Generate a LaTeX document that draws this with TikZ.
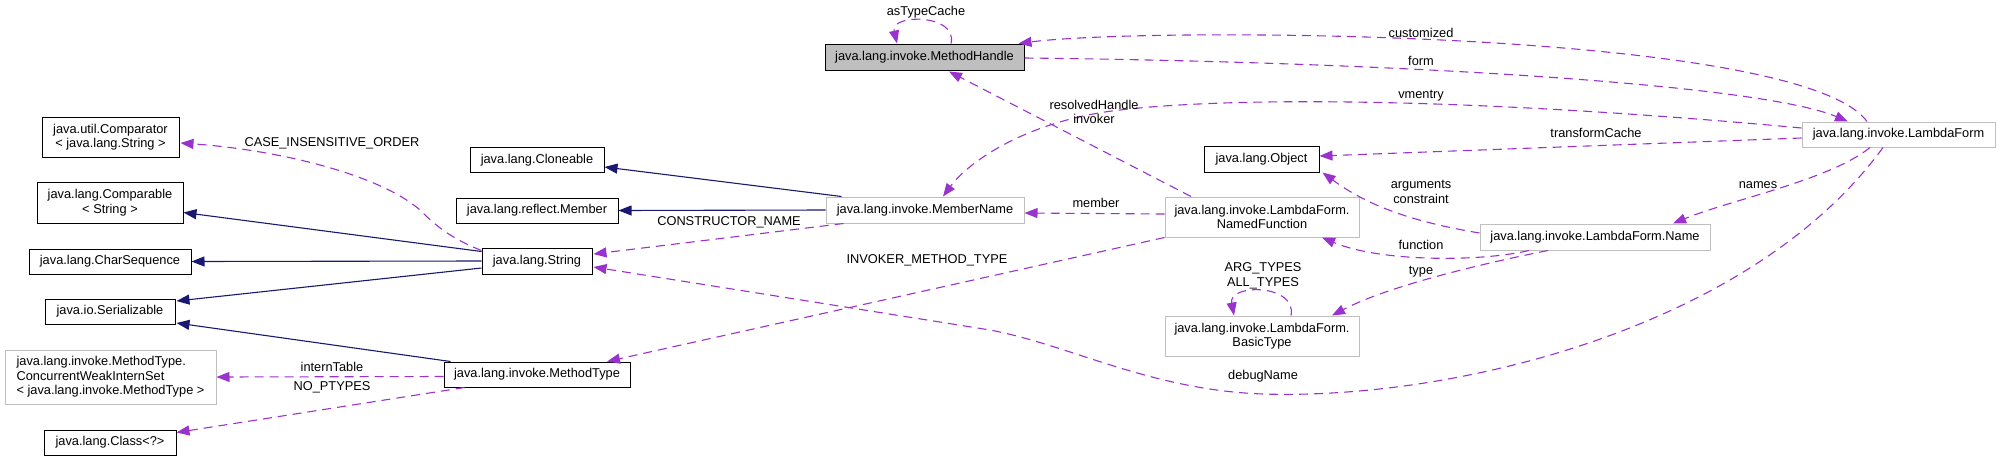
\documentclass[tikz,border=0pt]{standalone}
\usepackage{fontspec}
\setmainfont{Liberation Sans}
\usetikzlibrary{arrows.meta,calc}
\definecolor{inh}{HTML}{191970}
\definecolor{use}{HTML}{9A32CD}
\definecolor{gb}{HTML}{BFBFBF}
\newcommand{\fsz}{\fontsize{6.4}{7.3}\selectfont}
\begin{document}
\begin{tikzpicture}[x=0.5pt,y=-0.5pt,
  nb/.style={draw=black, line width=0.5pt, fill=white, inner sep=0pt, align=center, font=\fsz},
  gnb/.style={nb, draw=gb},
  ih/.style={draw=inh, line width=0.55pt, -{Triangle[length=6.5pt,width=5pt]}},
  us/.style={draw=use, line width=0.55pt, dash pattern=on 4.5pt off 3pt, -{Triangle[length=6.5pt,width=5pt]}},
  lbl/.style={font=\fsz, inner sep=0pt, align=center}]
\useasboundingbox (0,0) rectangle (2000,461);
% nodes
\node[nb, minimum width=68.5pt, minimum height=20pt] (cmp) at (110.5,137) {java.util.Comparator\\< java.lang.String >};
\node[nb, minimum width=73pt, minimum height=20.5pt] (cpb) at (110,202.5) {java.lang.Comparable\\< String >};
\node[nb, minimum width=81pt, minimum height=12.5pt] (chs) at (110,261.5) {java.lang.CharSequence};
\node[nb, minimum width=65pt, minimum height=12.5pt] (ser) at (110,311.5) {java.io.Serializable};
\node[gnb, align=left, minimum width=105.5pt, minimum height=27pt] (cwis) at (110.5,377) {java.lang.invoke.MethodType.\\ConcurrentWeakInternSet\\< java.lang.invoke.MethodType >};
\node[nb, minimum width=66pt, minimum height=12.5pt] (cls) at (110,442.5) {java.lang.Class<?>};
\node[nb, minimum width=67pt, minimum height=12.5pt] (cln) at (537,160) {java.lang.Cloneable};
\node[nb, minimum width=81pt, minimum height=12.5pt] (mem) at (537,210.5) {java.lang.reflect.Member};
\node[nb, minimum width=55pt, minimum height=13pt] (str) at (537,261) {java.lang.String};
\node[nb, minimum width=93pt, minimum height=12.5pt] (mt) at (537,374.5) {java.lang.invoke.MethodType};
\node[nb, fill=gb, minimum width=99.5pt, minimum height=13pt] (mh) at (924.5,57) {java.lang.invoke.MethodHandle};
\node[gnb, minimum width=99pt, minimum height=13pt] (mn) at (925,210) {java.lang.invoke.MemberName};
\node[nb, minimum width=57.5pt, minimum height=13pt] (obj) at (1261.5,159) {java.lang.Object};
\node[gnb, minimum width=97pt, minimum height=20pt] (nf) at (1262,217) {java.lang.invoke.LambdaForm.\\NamedFunction};
\node[gnb, minimum width=97pt, minimum height=20pt] (bt) at (1262,336) {java.lang.invoke.LambdaForm.\\BasicType};
\node[gnb, minimum width=115pt, minimum height=13pt] (nm) at (1595,237) {java.lang.invoke.LambdaForm.Name};
\node[gnb, minimum width=96.5pt, minimum height=12.5pt] (lf) at (1898.5,134.5) {java.lang.invoke.LambdaForm};
% inheritance
\draw[ih] ($(mn.north west)+(16,0)$) -- ($(cln.east)+(0,7)$);
\draw[ih] (mn.west) -- (mem.east);
\draw[ih] ($(str.north west)+(0,4)$) -- ($(cpb.east)+(0,10)$);
\draw[ih] (str.west) -- (chs.east);
\draw[ih] ($(str.west)+(0,7)$) -- ($(ser.east)+(1,-10.5)$);
\draw[ih] ($(mt.north west)+(7,0)$) -- ($(ser.east)+(1,11.5)$);
% usage
\draw[us] ($(mh.north)+(26.5,0)$) .. controls +(7,-30) and +(-7,-30) .. ($(mh.north)+(-27.5,0)$);
\node[lbl] (l1) at (926,12) {asTypeCache};
\draw[us] ($(lf.north)+(-31.5,0)$) .. controls +(-67,-92) and +(132,-17) .. ($(mh.north east)+(-6,0)$);
\node[lbl] (l2) at (1421,33) {customized};
\draw[us] ($(mh.east)+(0,1)$) .. controls +(376,4) and +(-88,-37) .. ($(lf.north)+(-50.5,0)$);
\node[lbl] (l3) at (1421,61) {form};
\draw[us] ($(lf.west)+(0,-6.5)$) .. controls (1500,100) and (1250,95) .. (1120,110) .. controls (1030,120) and (970,160) .. ($(mn.north)+(18,0)$);
\node[lbl] (l4) at (1421,96) {vmentry};
\draw[us] ($(lf.west)+(0,3.5)$) -- ($(obj.east)+(0,-3)$);
\node[lbl] (l5) at (1596,133) {transformCache};
\draw[us] ($(lf.south)+(-28.5,0)$) .. controls (1830,180) and (1730,200) .. ($(nm.north)+(78,0)$);
\node[lbl] (l6) at (1758,185) {names};
\draw[us] ($(lf.south)+(-15.5,0)$) .. controls (1750,330) and (1450,400) .. (1263,394) .. controls (1150,390) and (1070,345) .. (990,330) -- ($(str.east)+(1,6)$);
\node[lbl] (l7) at (1263,376) {debugName};
\draw[us] ($(nf.north)+(-71,0)$) -- ($(mh.south)+(24.5,1)$);
\node[lbl] (l8) at (1094,112) {resolvedHandle\\invoker};
\draw[us] ($(nf.west)+(0,-3)$) -- ($(mn.east)+(0,3)$);
\node[lbl] (l9) at (1096,203) {member};
\draw[us] (nf.south west) -- ($(mt.north)+(70,0)$);
\node[lbl] (l10) at (927,260) {INVOKER\_METHOD\_TYPE};
\draw[us] ($(nm.west)+(0,-4)$) .. controls (1400,220) and (1360,200) .. ($(obj.south east)+(3,0)$);
\node[lbl] (l11) at (1421,192) {arguments\\constraint};
\draw[us] ($(nm.south)+(-66,0)$) .. controls (1480,262) and (1380,262) .. ($(nf.south)+(60,0)$);
\node[lbl] (l12) at (1421,245) {function};
\draw[us] ($(nm.south)+(-47,0)$) .. controls (1490,262) and (1390,285) .. ($(bt.north)+(70,0)$);
\node[lbl] (l13) at (1421,272) {type};
\draw[us] ($(bt.north)+(29,0)$) .. controls +(6,-32) and +(-6,-32) .. ($(bt.north)+(-28,0)$);
\node[lbl] (l14) at (1263,275.5) {ARG\_TYPES\\ALL\_TYPES};
\draw[us] ($(mn.south west)+(18,0)$) -- ($(str.east)+(1,-7)$);
\node[lbl] (l15) at (729,222) {CONSTRUCTOR\_NAME};
\draw[us] ($(str.north west)+(0,3)$) .. controls (450,238) and (435,225) .. (420,210) .. controls (380,175) and (280,150) .. ($(cmp.east)+(1,6)$);
\node[lbl] (l16) at (332,143) {CASE\_INSENSITIVE\_ORDER};
\draw[us] ($(mt.west)+(0,2)$) -- (cwis.east);
\node[lbl] (l17) at (332,367) {internTable};
\draw[us] ($(mt.south west)+(21,0)$) -- ($(cls.east)+(0,-10)$);
\node[lbl] (l18) at (332,387) {NO\_PTYPES};
\end{tikzpicture}
\end{document}
